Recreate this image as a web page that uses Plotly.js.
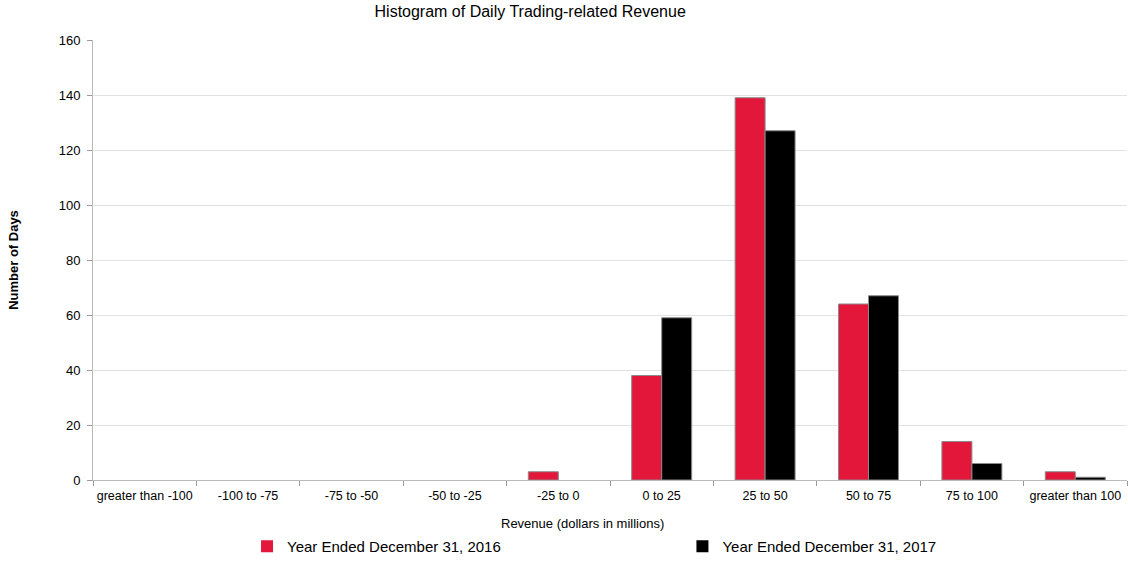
<!DOCTYPE html>
<html><head><meta charset="utf-8">
<script src="https://cdn.plot.ly/plotly-3.0.1.min.js"></script>
<style>body{margin:0;background:#fff}#chart{width:1128px;height:563px}</style>
</head><body><div id="chart"></div>
<script>
const categories = ["greater than -100","-100 to -75","-75 to -50","-50 to -25","-25 to 0","0 to 25","25 to 50","50 to 75","75 to 100","greater than 100"];
const days2016 = [0,0,0,0,3,38,139,64,14,3];
const days2017 = [0,0,0,0,0,59,127,67,6,1];
const seriesNames = ["Year Ended December 31, 2016","Year Ended December 31, 2017"];
const yTicks = [0,20,40,60,80,100,120,140,160];

const F = '"Liberation Sans",Arial,sans-serif';
const lw = arr => arr.map(v => v > 0 ? 1 : 0);
const traces = [
  {type:'bar', x:categories, y:days2016, name:seriesNames[0], legend:'legend',
   marker:{color:'#E2173A', line:{color:'#8a8a8a', width:lw(days2016)}}},
  {type:'bar', x:categories, y:days2017, name:seriesNames[1], legend:'legend2',
   marker:{color:'#000000', line:{color:'#8a8a8a', width:lw(days2017)}}}
];
const legendBase = {orientation:'h', yref:'container', y:-0.045, yanchor:'bottom', xref:'container',
  xanchor:'left', font:{family:F, size:15, color:'#000'}, itemwidth:30, bgcolor:'rgba(0,0,0,0)'};
const layout = {
  width:1128, height:563,
  margin:{l:93, r:1, t:40, b:83},
  paper_bgcolor:'#fff', plot_bgcolor:'#fff',
  font:{family:F, size:13, color:'#000'},
  title:{text:'Histogram of Daily Trading-related Revenue', x:0.47, xanchor:'center', y:0.99, yanchor:'top', font:{family:F, size:16, color:'#000'}},
  barmode:'group', bargap:0.42, bargroupgap:0,
  xaxis:{type:'category', tickson:'boundaries', ticks:'outside', ticklen:5, tickcolor:'#999', tickangle:0,
         showline:true, linecolor:'#bbb', showgrid:false, tickfont:{family:F, size:12.5}, automargin:false,
         ticklabelstandoff:4},
  yaxis:{range:[0,160], tickvals:yTicks, ticks:'outside', ticklen:5, tickcolor:'#999', automargin:false,
         showline:true, linecolor:'#bbb', gridcolor:'#e2e2e2', zeroline:false, tickfont:{family:F, size:13},
         ticklabelstandoff:4,
         title:{text:'<b>Number of Days</b>', font:{family:F, size:13}, standoff:37}},
  annotations:[{text:'Revenue (dollars in millions)', xref:'paper', yref:'paper', x:(582-93)/1034, y:-(523-480)/440,
                xanchor:'center', yanchor:'middle', showarrow:false, font:{family:F, size:13, color:'#000'}}],
  legend:Object.assign({}, legendBase, {x:0.219}),
  legend2:Object.assign({}, legendBase, {x:0.605}),
  showlegend:true
};
Plotly.newPlot('chart', traces, layout, {displayModeBar:false});
</script></body></html>
